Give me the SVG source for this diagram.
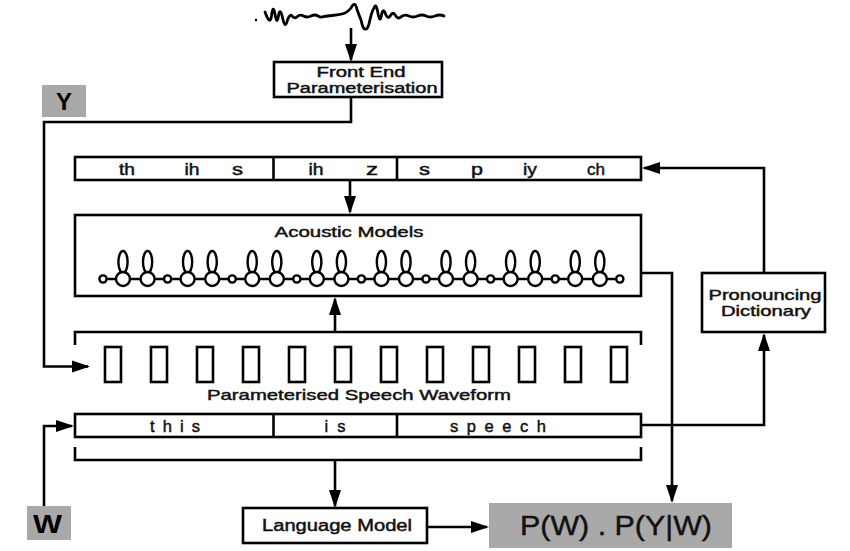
<svg xmlns="http://www.w3.org/2000/svg" width="850" height="551" viewBox="0 0 850 551">
  <style>
    .box { fill: #fff; stroke: #000; stroke-width: 2.6; }
    .gray { fill: #a9a9a9; stroke: none; }
    .line { fill: none; stroke: #000; stroke-width: 2.6; stroke-linejoin: miter; }
    .arrow { fill: none; stroke: #000; stroke-width: 2.6; marker-end: url(#ah); }
    .t { font-family: "Liberation Sans", Arial, sans-serif; fill: #111; stroke: #111; stroke-width: 0.45; text-anchor: middle; }
    .lbl { font-family: "Liberation Sans", Arial, sans-serif; font-weight: bold; fill: #000; text-anchor: middle; }
    .st { fill: #fff; stroke: #000; stroke-width: 2.4; }
  </style>
  <defs>
    <marker id="ah" markerUnits="userSpaceOnUse" markerWidth="20" markerHeight="14" refX="16" refY="6" orient="auto" overflow="visible">
      <path d="M0,0 L18,6 L0,12 Z" fill="#000"/>
    </marker>
  </defs>
  <rect width="850" height="551" fill="#fff"/>

  <!-- waveform -->
  <g id="waveform">
    <circle cx="256" cy="20" r="1.2" fill="#000"/>
    <path fill="none" stroke="#000" stroke-width="2.8" stroke-linejoin="round" stroke-linecap="round" d="M265,12 Q270,26 271.5,16 Q273,3 275,14.5 Q277,26 278.5,15.5 Q280,7 282.5,17.5 Q285,30 287.5,20 Q290,13 292.5,16.5 Q295,19 297.5,16.5 Q300,14 303.5,16 Q307,18 311,16 Q315,14 318,16 Q321,18 324,16.5 Q327,16 332,15.5 Q337,15 342,14 Q347,13 351,8 Q355,0 357,9.5 Q359,15 361,20 Q363,30 365.5,29 Q368,30 370,19.5 Q372,11 374,8 Q376,2 378,13.5 Q380,24 381.5,15 Q383,7 385.5,14 Q388,20 390.5,15.5 Q393,11 395.5,15.5 Q398,20 401.5,16.5 Q405,14 409,16 Q413,18 417.5,16 Q422,14 426,16 Q430,18 435,16 Q440,14 444,16"/>
  </g>

  <!-- connectors -->
  <g id="connectors">
    <path class="arrow" d="M351,28 V60"/>
    <path class="arrow" d="M351,97 V122 H44 V366.5 H88"/>
    <path class="arrow" d="M350,181 V212"/>
    <path class="arrow" d="M335,332 V299"/>
    <path class="arrow" d="M641,273 H672 V501"/>
    <path class="arrow" d="M764,273 V168 H644"/>
    <path class="arrow" d="M641,425 H764 V335"/>
    <path class="arrow" d="M44,506 V426 H72"/>
    <path class="arrow" d="M335,460 V506"/>
    <path class="arrow" d="M427,527 H487"/>
    <!-- brackets -->
    <path class="line" d="M75,345 V332 H641 V345"/>
    <path class="line" d="M75,447 V460 H641 V447"/>
  </g>

  <g id="front-end">
    <rect class="box" x="274" y="62" width="168" height="35"/>
    <text class="t" x="361" y="76.5" font-size="14" textLength="89" lengthAdjust="spacingAndGlyphs">Front End</text>
    <text class="t" x="362" y="92.5" font-size="14" textLength="151" lengthAdjust="spacingAndGlyphs">Parameterisation</text>
  </g>

  <g id="y-label">
    <rect class="gray" x="42" y="85" width="44" height="32"/>
    <text class="lbl" x="64" y="110" font-size="24">Y</text>
  </g>

  <g id="phones">
    <rect class="box" x="75" y="157" width="566" height="23"/>
    <line class="line" x1="273.5" y1="157" x2="273.5" y2="180"/>
    <line class="line" x1="397" y1="157" x2="397" y2="180"/>
    <g class="t" font-size="16" stroke-width="0.6">
      <text x="127" y="174.5" textLength="16" lengthAdjust="spacingAndGlyphs">th</text>
      <text x="192" y="174.5" textLength="15" lengthAdjust="spacingAndGlyphs">ih</text>
      <text x="237.5" y="174.5" textLength="11" lengthAdjust="spacingAndGlyphs">s</text>
      <text x="316" y="174.5" textLength="15" lengthAdjust="spacingAndGlyphs">ih</text>
      <text x="372" y="174.5" textLength="12" lengthAdjust="spacingAndGlyphs">z</text>
      <text x="424.5" y="174.5" textLength="11" lengthAdjust="spacingAndGlyphs">s</text>
      <text x="477" y="174.5" textLength="12" lengthAdjust="spacingAndGlyphs">p</text>
      <text x="530" y="174.5" textLength="14" lengthAdjust="spacingAndGlyphs">iy</text>
      <text x="596" y="174.5" textLength="18" lengthAdjust="spacingAndGlyphs">ch</text>
    </g>
  </g>

  <g id="acoustic-models">
    <rect class="box" x="75" y="215" width="566" height="81"/>
    <text class="t" x="349" y="237" font-size="15" textLength="149" lengthAdjust="spacingAndGlyphs">Acoustic Models</text>
    <line class="line" x1="103" y1="279" x2="620" y2="279"/>
    <g id="hmm">
      <g class="st">
        <circle cx="103" cy="279" r="3.6"/>
        <circle cx="167.6" cy="279" r="3.6"/>
        <circle cx="232.2" cy="279" r="3.6"/>
        <circle cx="296.8" cy="279" r="3.6"/>
        <circle cx="361.4" cy="279" r="3.6"/>
        <circle cx="426" cy="279" r="3.6"/>
        <circle cx="490.6" cy="279" r="3.6"/>
        <circle cx="555.2" cy="279" r="3.6"/>
        <circle cx="619.8" cy="279" r="3.6"/>
      </g>
      <g fill="none" stroke="#000" stroke-width="2.4">
        <ellipse cx="123" cy="262" rx="4.6" ry="11"/>
        <ellipse cx="147.6" cy="262" rx="4.6" ry="11"/>
        <ellipse cx="187.6" cy="262" rx="4.6" ry="11"/>
        <ellipse cx="212.2" cy="262" rx="4.6" ry="11"/>
        <ellipse cx="252.2" cy="262" rx="4.6" ry="11"/>
        <ellipse cx="276.8" cy="262" rx="4.6" ry="11"/>
        <ellipse cx="316.8" cy="262" rx="4.6" ry="11"/>
        <ellipse cx="341.4" cy="262" rx="4.6" ry="11"/>
        <ellipse cx="381.4" cy="262" rx="4.6" ry="11"/>
        <ellipse cx="406" cy="262" rx="4.6" ry="11"/>
        <ellipse cx="446" cy="262" rx="4.6" ry="11"/>
        <ellipse cx="470.6" cy="262" rx="4.6" ry="11"/>
        <ellipse cx="510.6" cy="262" rx="4.6" ry="11"/>
        <ellipse cx="535.2" cy="262" rx="4.6" ry="11"/>
        <ellipse cx="575.2" cy="262" rx="4.6" ry="11"/>
        <ellipse cx="599.8" cy="262" rx="4.6" ry="11"/>
      </g>
      <g class="st">
        <circle cx="123" cy="279" r="7"/>
        <circle cx="147.6" cy="279" r="7"/>
        <circle cx="187.6" cy="279" r="7"/>
        <circle cx="212.2" cy="279" r="7"/>
        <circle cx="252.2" cy="279" r="7"/>
        <circle cx="276.8" cy="279" r="7"/>
        <circle cx="316.8" cy="279" r="7"/>
        <circle cx="341.4" cy="279" r="7"/>
        <circle cx="381.4" cy="279" r="7"/>
        <circle cx="406" cy="279" r="7"/>
        <circle cx="446" cy="279" r="7"/>
        <circle cx="470.6" cy="279" r="7"/>
        <circle cx="510.6" cy="279" r="7"/>
        <circle cx="535.2" cy="279" r="7"/>
        <circle cx="575.2" cy="279" r="7"/>
        <circle cx="599.8" cy="279" r="7"/>
      </g>
    </g>
  </g>

  <g id="speech-waveform">
    <g class="box">
      <rect x="105" y="347" width="16" height="35"/>
      <rect x="151" y="347" width="16" height="35"/>
      <rect x="197" y="347" width="16" height="35"/>
      <rect x="243" y="347" width="16" height="35"/>
      <rect x="289" y="347" width="16" height="35"/>
      <rect x="335" y="347" width="16" height="35"/>
      <rect x="381" y="347" width="16" height="35"/>
      <rect x="427" y="347" width="16" height="35"/>
      <rect x="473" y="347" width="16" height="35"/>
      <rect x="519" y="347" width="16" height="35"/>
      <rect x="565" y="347" width="16" height="35"/>
      <rect x="611" y="347" width="16" height="35"/>
    </g>
    <text class="t" x="359" y="400" font-size="15" textLength="304" lengthAdjust="spacingAndGlyphs">Parameterised Speech Waveform</text>
  </g>

  <g id="words">
    <rect class="box" x="75" y="414" width="566" height="23"/>
    <line class="line" x1="273.5" y1="414" x2="273.5" y2="437"/>
    <line class="line" x1="397" y1="414" x2="397" y2="437"/>
    <g class="t" font-size="16.5" stroke-width="0.55">
      <text x="175" y="432" textLength="50" lengthAdjust="spacing">this</text>
      <text x="335" y="432" textLength="21" lengthAdjust="spacing">is</text>
      <text x="498" y="432" textLength="96" lengthAdjust="spacing">speech</text>
    </g>
  </g>

  <g id="pronouncing-dictionary">
    <rect class="box" x="702" y="273" width="123" height="59"/>
    <text class="t" x="765" y="299.5" font-size="14.5" textLength="113" lengthAdjust="spacingAndGlyphs">Pronouncing</text>
    <text class="t" x="766" y="316" font-size="14.5" textLength="90" lengthAdjust="spacingAndGlyphs">Dictionary</text>
  </g>

  <g id="w-label">
    <rect class="gray" x="27" y="506" width="44" height="34"/>
    <text class="lbl" x="47.5" y="533" font-size="25" textLength="29" lengthAdjust="spacingAndGlyphs">W</text>
  </g>

  <g id="language-model">
    <rect class="box" x="243" y="508" width="184" height="35"/>
    <text class="t" x="337" y="531" font-size="16" textLength="150" lengthAdjust="spacingAndGlyphs">Language Model</text>
  </g>

  <g id="result">
    <rect class="gray" x="489" y="503" width="243" height="45"/>
    <text class="t" x="616" y="535" font-size="28" stroke-width="0.3" textLength="192" lengthAdjust="spacingAndGlyphs">P(W) . P(Y|W)</text>
  </g>
</svg>
